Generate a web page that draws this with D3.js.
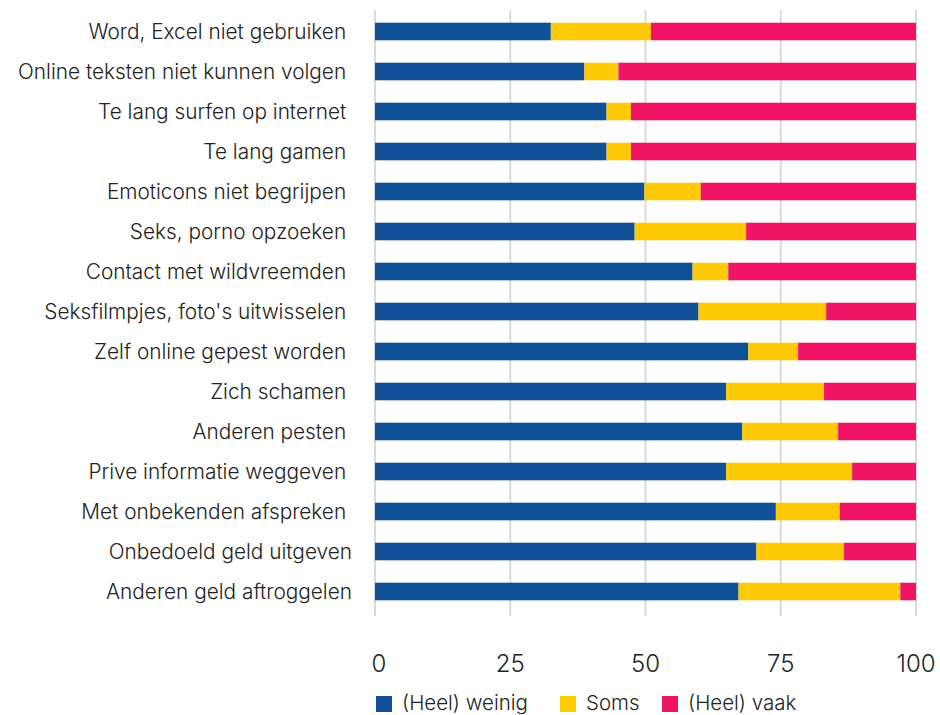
<!DOCTYPE html>
<html><head><meta charset="utf-8">
<script src="https://cdn.jsdelivr.net/npm/d3@7"></script>
<style>body{margin:0;background:#fff}svg{display:block}text{font-family:Inter,"Open Sans",sans-serif;fill:#222}</style>
</head><body><svg id="c" width="940" height="715"></svg>
<script>
const categories = ["Word, Excel niet gebruiken\u00A0","Online teksten niet kunnen volgen\u00A0","Te lang surfen op internet\u00A0","Te lang gamen\u00A0","Emoticons niet begrijpen\u00A0","Seks, porno opzoeken\u00A0","Contact met wildvreemden\u00A0","Seksfilmpjes, foto's uitwisselen\u00A0","Zelf online gepest worden\u00A0","Zich schamen\u00A0","Anderen pesten\u00A0","Prive informatie weggeven\u00A0","Met onbekenden afspreken\u00A0","Onbedoeld geld uitgeven","Anderen geld aftroggelen"];
const weinig = [32.5,38.7,42.8,42.8,49.8,48.0,58.7,59.8,69.0,64.9,67.9,64.9,74.1,70.5,67.2];
const soms   = [18.5,6.3,4.5,4.5,10.4,20.6,6.6,23.6,9.2,18.1,17.7,23.3,11.8,16.2,29.9];
const vaak   = [49.0,55.0,52.7,52.7,39.8,31.4,34.7,16.6,21.8,17.0,14.4,11.8,14.1,13.3,2.9];
const seriesNames = ["(Heel) weinig","Soms","(Heel) vaak"];
const xTicks = [0,25,50,75,100];

const colors = ["#0F5096","#FFC905","#EF1466"];
const svg = d3.select("#c");
const x = d3.scaleLinear().domain([0,100]).range([375,916]);
const y = d3.scaleBand().domain(categories).range([11.5,611.5]).paddingInner(0.56).paddingOuter(0.28);

const rows = categories.map((c,i)=>({cat:c, v:[weinig[i],soms[i],vaak[i]]}));
const keys = [0,1,2];
const stack = d3.stack().keys(keys).value((d,k)=>d.v[k]);
const stacked = stack(rows);

// gridlines
svg.append("g").selectAll("line").data(xTicks).join("line")
  .attr("x1",d=>x(d)).attr("x2",d=>x(d)).attr("y1",10).attr("y2",616)
  .attr("stroke","#d9d9d9").attr("stroke-width",2);

svg.append("g").selectAll("g").data(stacked).join("g")
  .attr("fill",(d,i)=>colors[i])
  .selectAll("rect").data(d=>d).join("rect")
  .attr("x",d=>x(d[0])).attr("width",d=>x(d[1])-x(d[0]))
  .attr("y",d=>y(d.data.cat)).attr("height",y.bandwidth());

// category labels
svg.append("g").selectAll("text").data(categories).join("text")
  .attr("x",352).attr("y",d=>y(d)+y.bandwidth()/2).attr("dy","0.35em")
  .attr("text-anchor","end").attr("font-size",20.8).attr("font-weight",300)
  .style("white-space","pre").text(d=>d);

// x tick labels
svg.append("g").selectAll("text").data(xTicks).join("text")
  .attr("x",d=>x(d)+ (d===0?4:0)).attr("y",672).attr("text-anchor","middle")
  .attr("font-size",24).attr("font-weight",300).text(d=>d);

// legend
const legX = [376,560,662];
const lg = svg.append("g").selectAll("g").data(seriesNames).join("g")
  .attr("transform",(d,i)=>`translate(${legX[i]},696)`);
lg.append("rect").attr("width",16).attr("height",16).attr("fill",(d,i)=>colors[i]);
lg.append("text").attr("x",26).attr("y",7).attr("dy","0.35em").attr("font-size",20.5).attr("font-weight",300).text(d=>d);
</script></body></html>
